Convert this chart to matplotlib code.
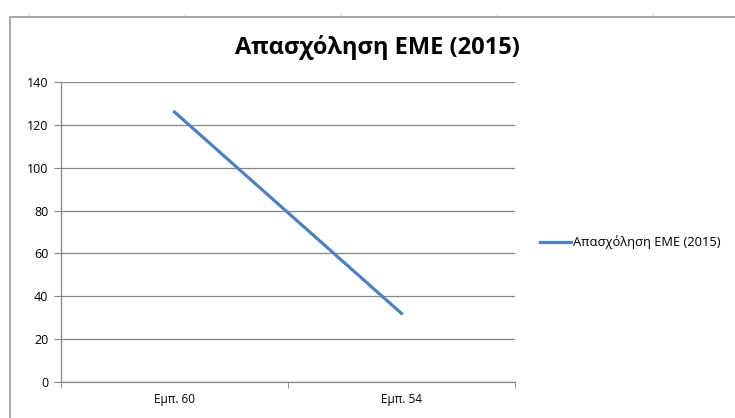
import matplotlib.pyplot as plt
from matplotlib.patches import Rectangle
from matplotlib.lines import Line2D

categories = ["Εμπ. 60", "Εμπ. 54"]
values = [126, 32]
series_name = "Απασχόληση ΕΜΕ (2015)"
yticks = [0, 20, 40, 60, 80, 100, 120, 140]

plt.rcParams['font.family'] = ['Open Sans', 'DejaVu Sans']

fig = plt.figure(figsize=(7.35, 4.18), dpi=100)

# spreadsheet cells behind the chart
for xc in [29, 185, 341, 497, 653]:
    fig.add_artist(Line2D([xc / 735, xc / 735], [1 - 14 / 418, 1 - 18 / 418],
                          color='#d4d4d4', lw=0.8, zorder=-2))
fig.add_artist(Rectangle((10 / 735, -0.01), 1, 1 - 17 / 418 + 0.01, facecolor='white',
                         edgecolor='#9a9a9a', lw=1.2, zorder=-1))

ax = fig.add_axes([61 / 735, 1 - 382 / 418, (515 - 61) / 735, 300 / 418])
ax.patch.set_alpha(0)
x = list(range(len(categories)))
ax.plot(x, values, color='#4F81BD', lw=2.3, label=series_name)

ax.set_xlim(-0.5, len(categories) - 0.5)
ax.set_ylim(0, 140)
ax.set_yticks(yticks)
ax.set_xticks(x)
ax.set_xticklabels(categories, fontsize=8.5)
ax.set_xticks([i - 0.5 for i in range(len(categories) + 1)], minor=True)
ax.tick_params(axis='x', which='major', length=0, pad=8)
ax.tick_params(axis='x', which='minor', length=4, color='#868686', direction='out')
ax.tick_params(axis='y', length=5, color='#868686', labelsize=9, pad=4)
ax.grid(axis='y', color='#868686', lw=0.9)
ax.set_axisbelow(True)
for s in ['top', 'right']:
    ax.spines[s].set_visible(False)
for s in ['left', 'bottom']:
    ax.spines[s].set_color('#868686')
    ax.spines[s].set_linewidth(0.9)

fig.text(377 / 735, 1 - 48 / 418, series_name, ha='center', va='center',
         fontsize=17, fontweight='bold')

ax.legend(loc='center left', bbox_to_anchor=(1.03, 0.465), frameon=False,
          fontsize=9.3, handlelength=2.4, handletextpad=0.1)

fig.savefig('out.png', dpi=100)
